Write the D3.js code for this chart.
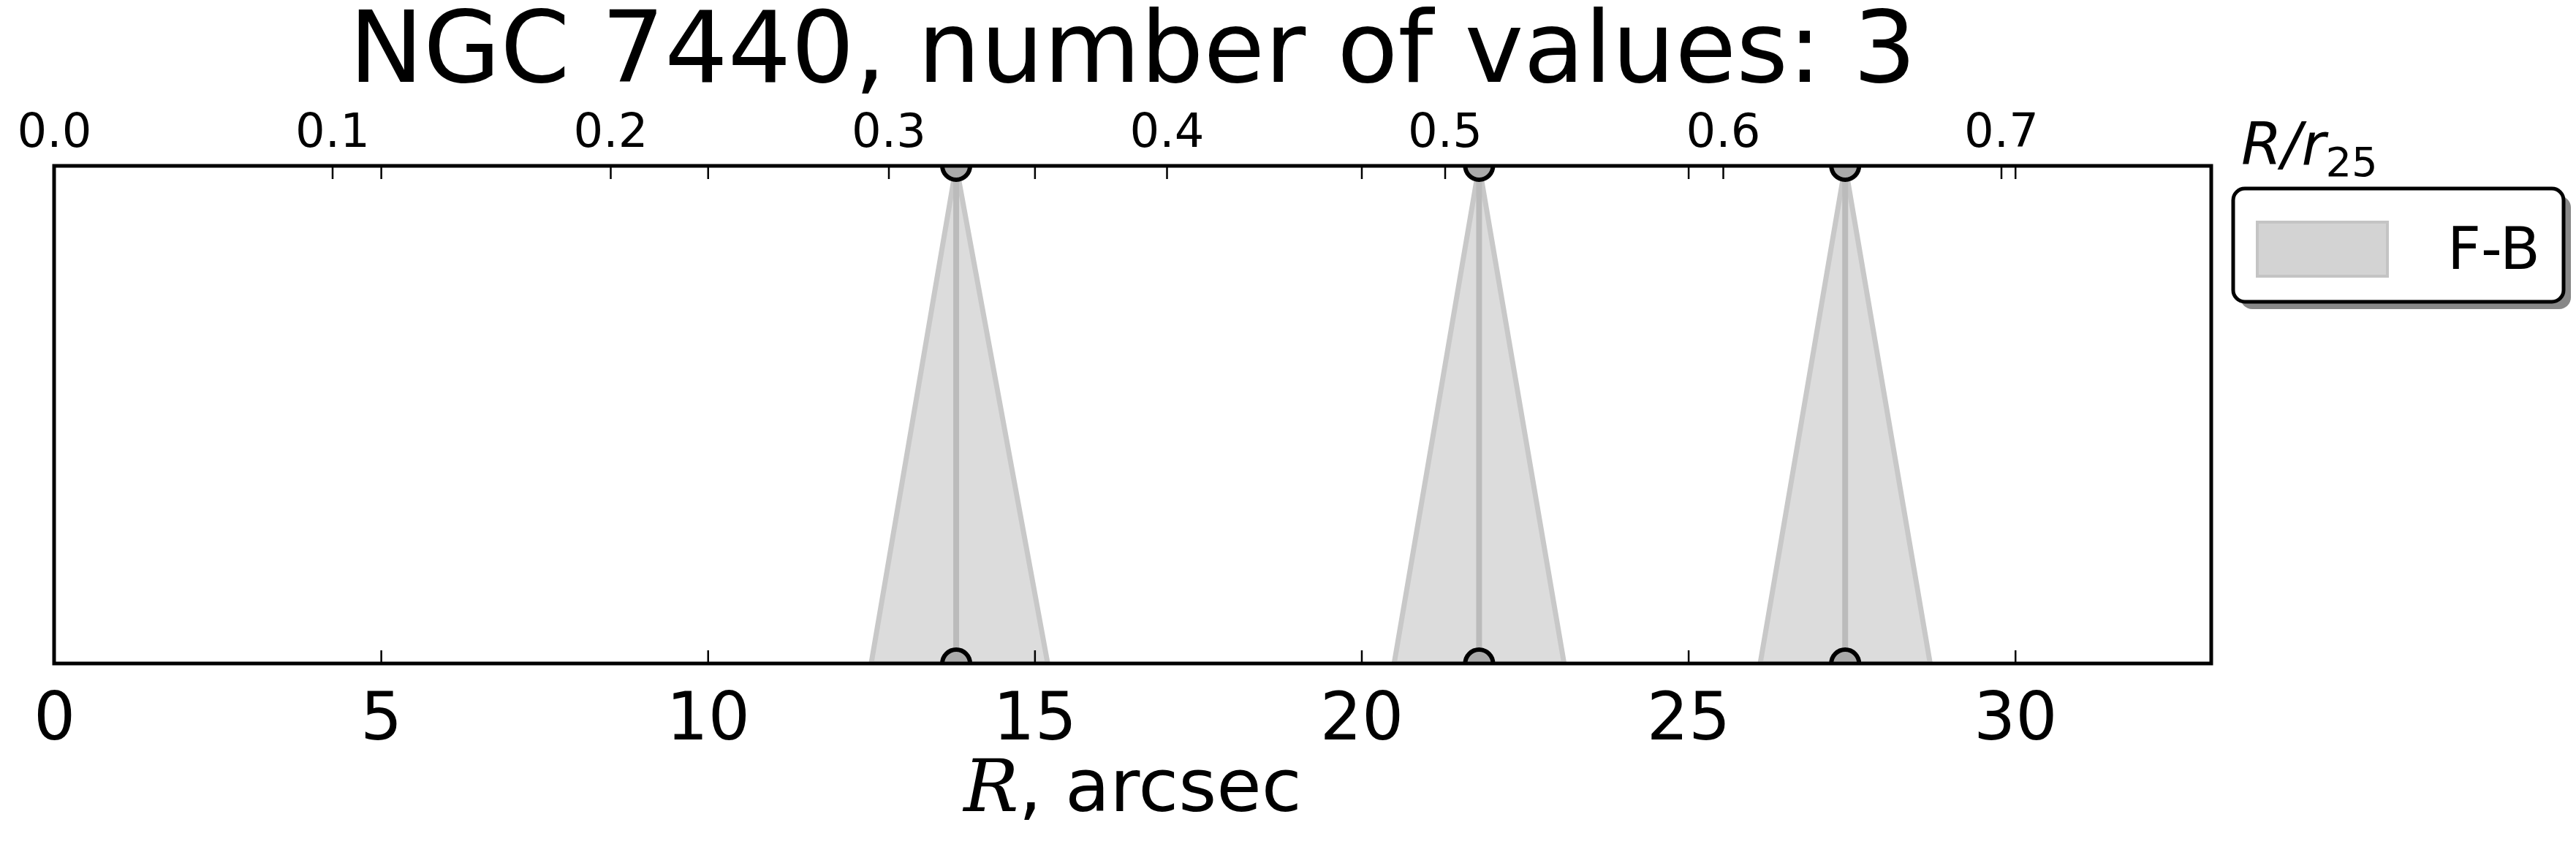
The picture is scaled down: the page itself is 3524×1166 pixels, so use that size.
<!DOCTYPE html>
<html>
<head>
<meta charset="utf-8">
<script src="https://cdn.jsdelivr.net/npm/d3@7"></script>
<style>
  body { margin: 0; background: #fff; }
  text { font-family: "DejaVu Sans", sans-serif; }
</style>
</head>
<body>
<svg id="chart" width="3524" height="1166"></svg>
<script>
// data
const radii = [13.8, 21.8, 27.4];          // arcsec
const lowEdge = [12.5, 20.5, 26.1];         // base of each band, left
const highEdge = [15.2, 23.1, 28.7];        // base of each band, right
const bottomTicks = [0, 5, 10, 15, 20, 25, 30];
const topTicks = [0.0, 0.1, 0.2, 0.3, 0.4, 0.5, 0.6, 0.7];
const r25 = 42.55;                          // arcsec
const titleText = "NGC 7440, number of values: 3";

const W = 3524, H = 1166;
const margin = { top: 227, right: 499, bottom: 258, left: 74 };
const width = W - margin.left - margin.right;
const height = H - margin.top - margin.bottom;

const svg = d3.select("#chart");
const g = svg.append("g").attr("transform", `translate(${margin.left},${margin.top})`);

const x = d3.scaleLinear().domain([0, 33]).range([0, width]);
const xTop = d3.scaleLinear().domain([0, 33 / r25]).range([0, width]);
const y = d3.scaleLinear().domain([0, 1]).range([height, 0]);

g.append("clipPath").attr("id", "clip")
  .append("rect").attr("width", width).attr("height", height);

const plot = g.append("g").attr("clip-path", "url(#clip)");

radii.forEach((r, i) => {
  const pts = [[r, 1], [highEdge[i], 0], [lowEdge[i], 0]];
  plot.append("polygon")
    .attr("points", pts.map(p => [x(p[0]), y(p[1])].join(",")).join(" "))
    .attr("fill", "#dcdcdc")
    .attr("stroke", "#c8c8c8")
    .attr("stroke-width", 7)
    .attr("stroke-linejoin", "miter");
  plot.append("line")
    .attr("x1", x(r)).attr("x2", x(r))
    .attr("y1", y(1)).attr("y2", y(0))
    .attr("stroke", "#bbbbbb").attr("stroke-width", 8);
  [0, 1].forEach(v => {
    plot.append("circle")
      .attr("cx", x(r)).attr("cy", y(v)).attr("r", 19)
      .attr("fill", "#aaaaaa").attr("stroke", "#000").attr("stroke-width", 6);
  });
});

// frame
g.append("rect").attr("width", width).attr("height", height)
  .attr("fill", "none").attr("stroke", "#000").attr("stroke-width", 5);

// bottom axis (ticks inward, mirrored at top)
const bottomAxis = g.append("g").attr("transform", `translate(0,${height})`)
  .call(d3.axisBottom(x).tickValues(bottomTicks).tickSize(-18).tickPadding(40));
const mirrorAxis = g.append("g")
  .call(d3.axisTop(x).tickValues(bottomTicks).tickSize(-18).tickFormat(""));
const topAxis = g.append("g")
  .call(d3.axisTop(xTop).tickValues(topTicks).tickSize(-18).tickPadding(26)
    .tickFormat(d3.format(".1f")));

[bottomAxis, mirrorAxis, topAxis].forEach(a => {
  a.select(".domain").remove();
  a.selectAll(".tick line").attr("stroke", "#000").attr("stroke-width", 2.5);
  a.selectAll("text").attr("fill", "#000");
});
bottomAxis.selectAll("text").attr("font-size", 90);
topAxis.selectAll("text").attr("font-size", 64);

// titles
svg.append("text").attr("x", margin.left + width / 2).attr("y", 112)
  .attr("text-anchor", "middle").attr("font-size", 136).text(titleText);

const xl = svg.append("text").attr("x", margin.left + width / 2).attr("y", 1110)
  .attr("text-anchor", "middle").attr("font-size", 100);
xl.append("tspan").attr("font-family", "DejaVu Serif").attr("font-style", "italic").text("R");
xl.append("tspan").text(", arcsec");

const rl = svg.append("text").attr("x", 3066).attr("y", 225)
  .attr("font-family", "DejaVu Serif").attr("font-size", 80);
rl.append("tspan").attr("font-style", "italic").text("R/r");
rl.append("tspan").attr("font-size", 56).attr("dy", 16).text("25");

// legend
const lg = svg.append("g").attr("transform", "translate(3055,258)");
lg.append("rect").attr("x", 10).attr("y", 10).attr("width", 452).attr("height", 155)
  .attr("rx", 16).attr("fill", "#888");
lg.append("rect").attr("width", 452).attr("height", 155).attr("rx", 16)
  .attr("fill", "#fff").attr("stroke", "#000").attr("stroke-width", 5);
lg.append("rect").attr("x", 33).attr("y", 46).attr("width", 178).attr("height", 74)
  .attr("fill", "#d3d3d3").attr("stroke", "#c4c4c4").attr("stroke-width", 4);
lg.append("text").attr("x", 420).attr("y", 110).attr("text-anchor", "end")
  .attr("font-size", 80).text("F-B");
</script>
</body>
</html>
